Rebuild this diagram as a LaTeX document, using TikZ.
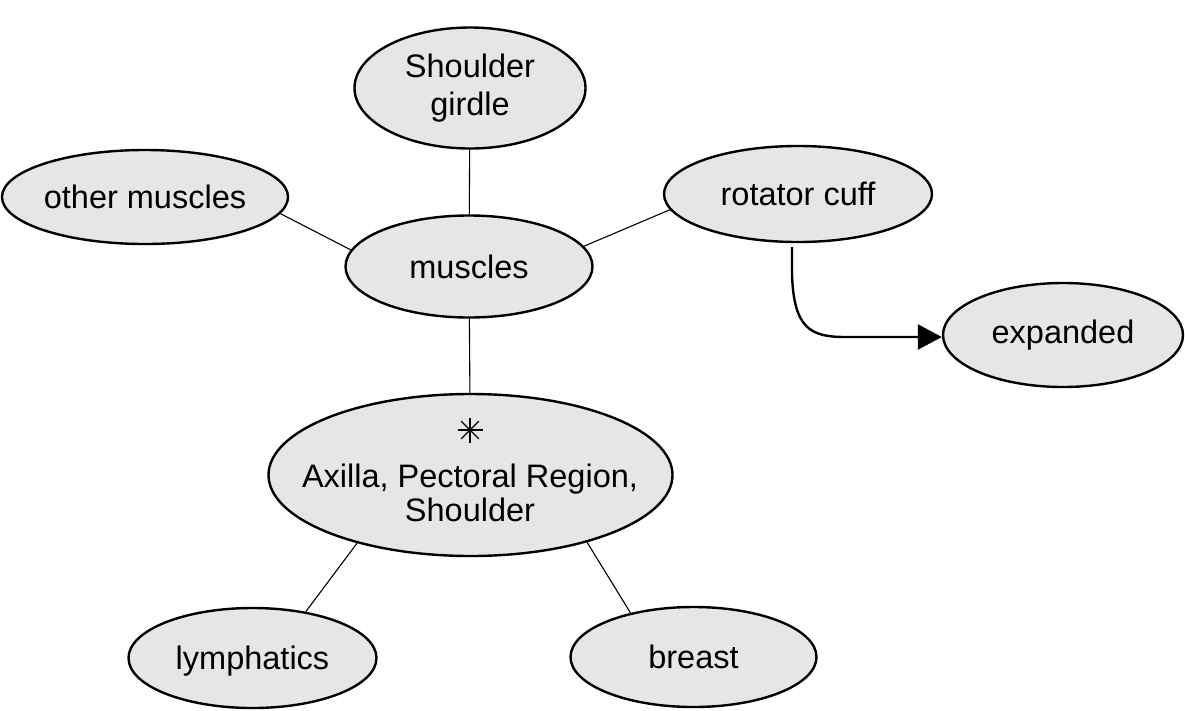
\documentclass[tikz,border=0pt]{standalone}
\usepackage{fontspec}
\setmainfont{Liberation Sans}
\usetikzlibrary{shapes.geometric,arrows.meta}
\definecolor{bubgray}{HTML}{E6E6E6}
\begin{document}
\begin{tikzpicture}[x=1pt,y=-1pt,
  bub/.style={ellipse,draw=black,line width=2.4pt,fill=bubgray,inner sep=0pt,align=center,font=\fontsize{32.5}{38}\selectfont},
  txt/.style={inner sep=0pt,align=center,font=\fontsize{32.5}{34}\selectfont},
  link/.style={line width=1.1pt},
  flow/.style={line width=2.4pt,-{Triangle[length=24pt,width=25pt]}}]
\useasboundingbox (0,0) rectangle (1185,710);
\node[bub,minimum width=231pt,minimum height=121pt] (sg) at (470,88) {Shoulder\\girdle};
\node[bub,minimum width=266pt,minimum height=94pt] (om) at (145,197) {other muscles};
\node[bub,minimum width=268pt,minimum height=96pt] (rc) at (798,194) {rotator cuff};
\node[bub,minimum width=247pt,minimum height=102pt] (mu) at (469,266.5) {muscles};
\node[bub,minimum width=240pt,minimum height=104pt] (ex) at (1063,335) {expanded};
\node[bub,minimum width=404pt,minimum height=162pt] (ax) at (470.5,475) {};
\node[txt] (axt) at (470,493) {Axilla, Pectoral Region,\\Shoulder};
\coordinate (st) at (470,430);
\node[bub,minimum width=248pt,minimum height=100pt,text depth=0pt] (ly) at (252.5,658) {lymphatics};
\node[bub,minimum width=246pt,minimum height=100pt] (br) at (693.5,657) {breast};
\foreach \a in {0,45,90,135}
  \draw[line width=1.3pt,shift={(st)}] (\a:12.5) -- (\a+180:12.5);
\draw[link] (sg) -- (mu);
\draw[link] (om.-7) -- (mu.172);
\draw[link] (rc.187) -- (mu.10.5);
\draw[link] (mu) -- (ax);
\draw[link] (ax.211) -- (ly.41);
\draw[link] (ax.-30) -- (br.145.5);
\coordinate (a1) at (792,247);
\draw[flow] (a1) -- (792,275) .. controls (794,328) and (810,337) .. (845,337) -- ([yshift=-2pt]ex.west);
\end{tikzpicture}
\end{document}
